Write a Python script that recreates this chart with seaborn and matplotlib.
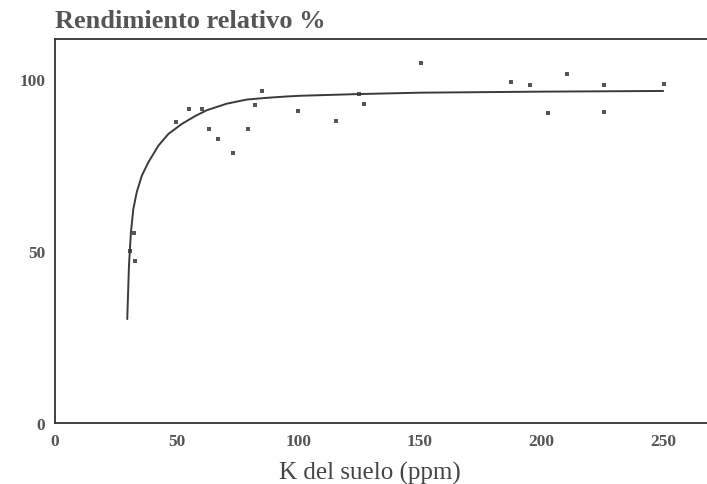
import matplotlib
matplotlib.use("Agg")
import numpy as np
import pandas as pd
import matplotlib.pyplot as plt
import seaborn as sns

k_suelo = [30.8, 32.6, 32.9, 49.6, 55.1, 60.3, 63.2, 67.1, 73.2, 79.2, 82.1, 85.1,
           100.0, 115.5, 125.1, 127.2, 150.4, 187.4, 195.4, 202.7, 210.4, 225.7,
           225.7, 250.3]
rendimiento = [50.1, 55.1, 47.1, 87.4, 91.3, 91.3, 85.4, 82.4, 78.4, 85.5, 92.5,
               96.4, 90.6, 87.9, 95.7, 92.8, 104.7, 99.0, 98.3, 90.2, 101.3, 98.3,
               90.3, 98.5]

# fitted response curve
curva_x = [29.7, 30.4, 31.2, 32.2, 33.6, 35.7, 38.4, 42.5, 46.6, 52.1, 57.6,
           62.4, 70.6, 78.8, 87.0, 95.3, 100.7, 125.0, 150.0, 200.0, 250.0]
curva_y = [30.2, 45.7, 55.4, 62.2, 67.1, 71.9, 75.8, 80.6, 84.0, 86.9, 89.2,
           90.9, 92.8, 94.0, 94.5, 94.9, 95.1, 95.6, 96.0, 96.3, 96.5]

x_ticks = [0, 50, 100, 150, 200, 250]
y_ticks = [0, 50, 100]

df_pts = pd.DataFrame({"k": k_suelo, "rend": rendimiento})
df_curve = pd.DataFrame({"k": curva_x, "rend": curva_y})

sns.set_style("white")
plt.rcParams["font.family"] = ["Liberation Serif", "DejaVu Serif"]

fig = plt.figure(figsize=(7.07, 4.85), dpi=100)
ax = fig.add_axes([55 / 707, 1 - 424 / 485, 1 - 55 / 707, (424 - 40) / 485])

sns.lineplot(data=df_curve, x="k", y="rend", ax=ax, color="#3a3a3a",
             linewidth=1.4, estimator=None, sort=False)
sns.scatterplot(data=df_pts, x="k", y="rend", ax=ax, color="#555555",
                marker="s", s=9, linewidth=0)

ax.set_xlim(0, 268)
ax.set_ylim(0, 111.6)
ax.set_xticks(x_ticks)
ax.set_yticks(y_ticks)
ax.tick_params(direction="in", length=4, width=0.8, colors="#444444",
               labelsize=12.5, pad=7)
for lab in ax.get_xticklabels() + ax.get_yticklabels():
    lab.set_fontweight("bold")
    lab.set_color("#555555")

for side in ["left", "bottom", "top"]:
    ax.spines[side].set_color("#333333")
    ax.spines[side].set_linewidth(1.3)
ax.spines["right"].set_visible(False)

ax.set_xlabel("K del suelo (ppm)", fontsize=18, color="#444444")
ax.xaxis.set_label_coords(0.483, -0.098)
ax.set_ylabel("")
fig.text(55 / 707, 1 - 22 / 485, "Rendimiento relativo %", fontsize=19,
         fontweight="bold", color="#555555", va="center", ha="left")

fig.savefig("out.png", dpi=100)
